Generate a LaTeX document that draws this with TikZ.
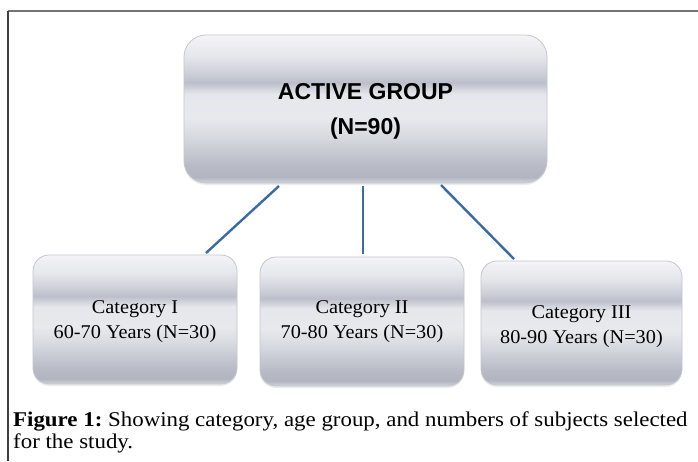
\documentclass[tikz,border=0pt]{standalone}
\usepackage{fontspec}
\setmainfont{Liberation Serif}
\newfontfamily\capfont[FakeStretch=1.09]{Liberation Serif}
\newfontfamily\catfont[FakeStretch=1.04]{Liberation Serif}
\newfontfamily\headfont{Liberation Sans}
\usetikzlibrary{shadows}
\definecolor{gb0}{HTML}{D3D5DC}
\definecolor{gb1}{HTML}{B2B4C0}
\definecolor{gb2}{HTML}{B8BAC6}
\definecolor{gb3}{HTML}{D6D8DF}
\definecolor{gb4}{HTML}{E8E9ED}
\definecolor{gb5}{HTML}{E6E7EC}
\definecolor{gb6}{HTML}{BCBECA}
\definecolor{gb7}{HTML}{CDCFD8}
\definecolor{gb8}{HTML}{E6E7EC}
\definecolor{gb9}{HTML}{F0F0F3}
\definecolor{gb10}{HTML}{F5F5F7}
\definecolor{linkblue}{HTML}{3A6CA3}
\definecolor{edgegray}{HTML}{C4C6CF}
\pgfdeclareverticalshading{glossy}{100bp}{
  color(0bp)=(gb0);
  color(25bp)=(gb0);
  color(27bp)=(gb1);
  color(31bp)=(gb2);
  color(40bp)=(gb3);
  color(47bp)=(gb4);
  color(55bp)=(gb5);
  color(59bp)=(gb6);
  color(62bp)=(gb7);
  color(68bp)=(gb8);
  color(73bp)=(gb9);
  color(75bp)=(gb10);
  color(100bp)=(gb10)}
\tikzset{
  gbox/.style={rectangle, rounded corners=#1, shading=glossy, draw=edgegray, line width=0.8pt,
    inner sep=0pt, align=center,
    drop shadow={shadow xshift=0pt, shadow yshift=-2pt, opacity=0.12, fill=black!60}},
  gbox/.default=16pt,
  link/.style={draw=linkblue, line width=2.4pt},
  frameline/.style={line width=1.4pt},
  cattext/.style={font=\catfont\fontsize{19.5}{25}\selectfont, align=center},
  captext/.style={anchor=base west, inner sep=0pt, font=\capfont\frenchspacing\fontsize{21}{22}\selectfont},
}
\begin{document}
\begin{tikzpicture}[x=1pt,y=-1pt]
\useasboundingbox (0,0) rectangle (698,461);
\fill[white] (0,0) rectangle (698,461);
% frame
\draw[frameline, draw=black!55] (8,11) -- (698,11);
\draw[frameline, draw=black!75] (8,11) -- (8,461);
% boxes
\node[gbox=22pt, minimum width=363pt, minimum height=148pt] (top) at (365.5,109) {};
\node[gbox, minimum width=204pt, minimum height=129pt] (c1) at (135,319.5) {};
\node[gbox, minimum width=204pt, minimum height=129pt] (c2) at (362,321.5) {};
\node[gbox, minimum width=201pt, minimum height=124pt] (c3) at (581.5,323) {};
% texts
\node[font=\headfont\bfseries\fontsize{23}{35}\selectfont, align=center] (toptext) at (365.5,111) {ACTIVE GROUP\\(N=90)};
\node[cattext] (t1) at (135,321.5) {Category I\\60-70 Years (N=30)};
\node[cattext] (t2) at (362,322) {Category II\\70-80 Years (N=30)};
\node[cattext] (t3) at (581.5,326.5) {Category III\\80-90 Years (N=30)};
% connectors
\coordinate (a1) at (279,186);
\coordinate (b1) at (206,253);
\coordinate (a2) at (363,186);
\coordinate (b2) at (363,254);
\coordinate (a3) at (441,185);
\coordinate (b3) at (514,259);
\draw[link] (a1) -- (b1);
\draw[link] (a2) -- (b2);
\draw[link] (a3) -- (b3);
% caption
\node[captext] (cap1) at (13,426) {\textbf{Figure 1:} Showing category, age group, and numbers of subjects selected};
\node[captext] (cap2) at (13,448) {for the study.};
\end{tikzpicture}
\end{document}
